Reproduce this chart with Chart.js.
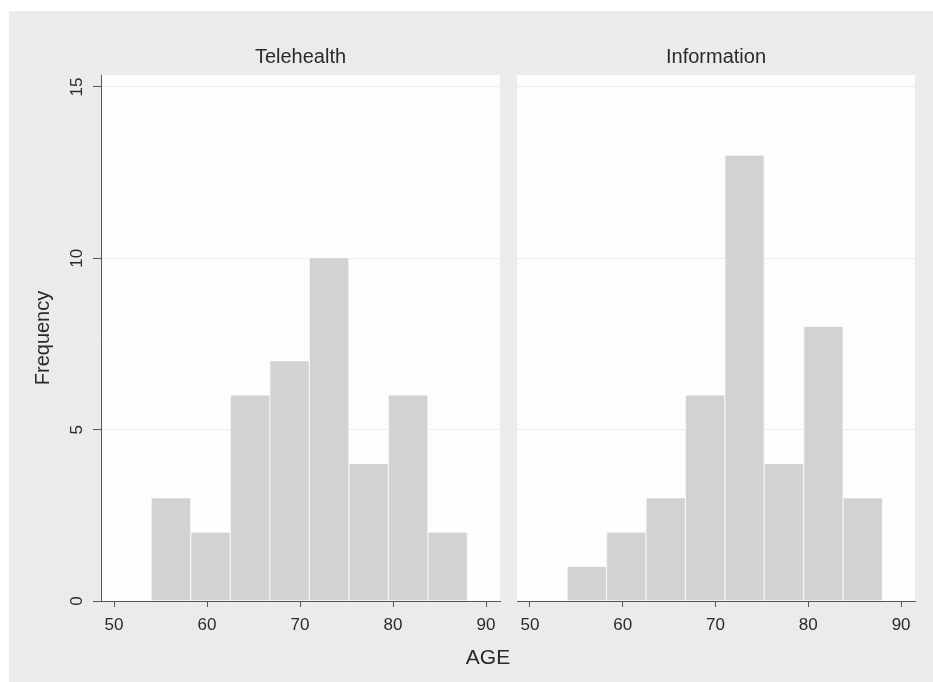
<!DOCTYPE html>
<html lang="en">
<head>
  <meta charset="UTF-8" />
  <title>AGE histogram by group</title>
  <script src="https://cdn.jsdelivr.net/npm/chart.js"></script>
  <style>
    * { margin: 0; padding: 0; box-sizing: border-box; }
    body { width: 933px; height: 682px; background: #fff; font-family: "Liberation Sans", Arial, sans-serif; overflow: hidden; }
    .frame { position: absolute; left: 9px; top: 11px; width: 924px; height: 671px; background: #ebebeb; }
    #panelA { position: absolute; left: 0; top: 0; }
    #panelB { position: absolute; left: 496px; top: 0; }
    .xtitle { position: absolute; left: 429px; top: 634px; width: 100px; text-align: center; font-size: 21px; line-height: 24px; color: #2a2a2a; }
  </style>
</head>
<body>
  <div class="frame">
    <canvas id="panelA" width="496" height="671"></canvas>
    <canvas id="panelB" width="428" height="671"></canvas>
    <div class="xtitle">AGE</div>
  </div>
  <script>
    // histogram bins (midpoints, width 4.25) and counts
    const binMids = [56.125, 60.375, 64.625, 68.875, 73.125, 77.375, 81.625, 85.875];
    const telehealth = [3, 2, 6, 7, 10, 4, 6, 2];
    const information = [1, 2, 3, 6, 13, 4, 8, 3];
    const xTicks = [50, 60, 70, 80, 90];
    const yTicks = [0, 5, 10, 15];

    const textColor = '#2a2a2a';
    const axisColor = '#555';
    Chart.defaults.font.family = '"Liberation Sans", Arial, sans-serif';

    // white plot region on the grey background
    const plotBg = {
      id: 'plotBg',
      beforeDraw(chart) {
        const { ctx, chartArea: a } = chart;
        ctx.save();
        ctx.fillStyle = '#fdfdfd';
        ctx.fillRect(a.left, a.top, a.right - a.left, a.bottom - a.top);
        ctx.restore();
      }
    };

    function makePanel(id, title, counts, showY) {
      const points = binMids.map((x, i) => ({ x: x, y: counts[i] }));
      return new Chart(document.getElementById(id), {
        type: 'bar',
        data: {
          datasets: [{
            data: points,
            backgroundColor: '#d2d2d2',
            borderColor: '#f3f3f3',
            borderWidth: { left: 1, right: 1, top: 0, bottom: 0 },
            borderSkipped: false,
            barPercentage: 1,
            categoryPercentage: 1
          }]
        },
        options: {
          responsive: false,
          animation: false,
          layout: { padding: { left: showY ? 0 : 12, right: showY ? 5 : 18, top: 0, bottom: 0 } },
          plugins: {
            legend: { display: false },
            tooltip: { enabled: false },
            title: {
              display: true, text: title, fullSize: false, color: textColor,
              font: { size: 20, weight: 'normal' }, padding: { top: 34, bottom: 6 }
            }
          },
          scales: {
            x: {
              type: 'linear', min: 48.6, max: 91.5, offset: false,
              afterBuildTicks: s => { s.ticks = xTicks.map(v => ({ value: v })); },
              afterFit: s => { s.height = 81; },
              grid: { offset: false, drawOnChartArea: false, tickLength: 6, tickColor: axisColor },
              border: { color: axisColor },
              ticks: { padding: 8, color: textColor, font: { size: 17 }, maxRotation: 0 }
            },
            y: {
              min: 0, max: 15.35,
              afterBuildTicks: s => { s.ticks = yTicks.map(v => ({ value: v })); },
              afterFit: s => { s.width = showY ? 92 : 0; },
              grid: {
                color: c => (c.tick && c.tick.value === 0) ? 'rgba(0,0,0,0)' : '#ececec',
                tickLength: 8, tickColor: axisColor, drawTicks: showY
              },
              border: { display: showY, color: axisColor },
              ticks: {
                display: showY, minRotation: 90, maxRotation: 90, crossAlign: 'center',
                padding: 6, color: textColor, font: { size: 17 }
              },
              title: {
                display: showY, text: 'Frequency', color: textColor,
                font: { size: 20 }, padding: { top: 22, bottom: 0 }
              }
            }
          }
        },
        plugins: [plotBg]
      });
    }

    makePanel('panelA', 'Telehealth', telehealth, true);
    makePanel('panelB', 'Information', information, false);
  </script>
</body>
</html>
